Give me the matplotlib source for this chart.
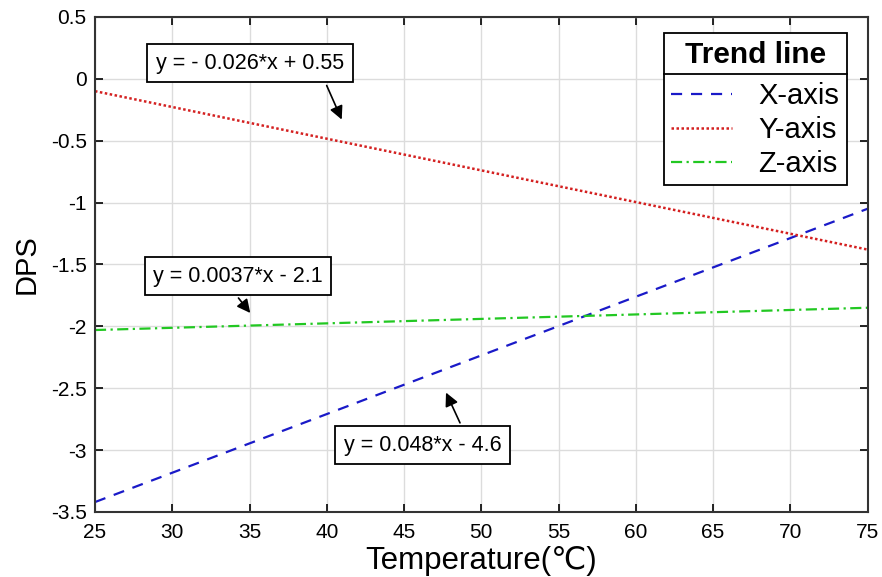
import matplotlib
matplotlib.use("Agg")
import matplotlib.pyplot as plt
from matplotlib.lines import Line2D

plt.rcParams['font.family'] = ['Liberation Sans', 'DejaVu Sans']

# trend lines, endpoints
temp = [25, 75]
x_axis = [-3.42, -1.05]
y_axis = [-0.10, -1.38]
z_axis = [-2.03, -1.85]

labels = ["X-axis", "Y-axis", "Z-axis"]
equations = ["y = - 0.026*x + 0.55", "y = 0.0037*x - 2.1", "y = 0.048*x - 4.6"]

fig = plt.figure(figsize=(8.82, 5.77), dpi=100)
ax = fig.add_axes([0.1077, 0.1127, 0.876, 0.858])

ax.plot(temp, x_axis, color="#1a1ac8", ls=(0, (5, 4)), lw=1.6, label=labels[0])
ax.plot(temp, y_axis, color="#d42020", ls=(0, (1, 1)), lw=1.8, label=labels[1])
ax.plot(temp, z_axis, color="#22c822", ls=(0, (5, 2, 1, 2)), lw=1.6, label=labels[2])

ax.set_xlim(25, 75)
ax.set_ylim(-3.5, 0.5)
ax.set_xticks(range(25, 80, 5))
ax.set_yticks([0.5, 0, -0.5, -1, -1.5, -2, -2.5, -3, -3.5])
ax.set_yticklabels(["0.5", "0", "-0.5", "-1", "-1.5", "-2", "-2.5", "-3", "-3.5"])
ax.grid(True, color="#dcdcdc", lw=1)
ax.tick_params(direction="in", top=True, right=True, length=6, width=1.2, labelsize=15)
ax.tick_params(axis="y", pad=6)
ax.tick_params(axis="x", pad=8)
for s in ax.spines.values():
    s.set_linewidth(1.5)
    s.set_color("#333333")

ax.set_xlabel("Temperature(℃)", fontsize=22.5, labelpad=3)
ax.set_ylabel("DPS", fontsize=21, labelpad=7)

# equation boxes with arrows
box = dict(boxstyle="square,pad=0.4", fc="white", ec="black", lw=1.3)
arr = dict(arrowstyle="-|>", color="black", lw=1.2, mutation_scale=20)
ax.annotate(equations[0], xy=(41.04, -0.35), xytext=(35.03, 0.126), fontsize=15.5,
            ha="center", va="center", bbox=box, arrowprops=dict(arr, relpos=(0.88, 0)))
ax.annotate(equations[1], xy=(35.16, -1.91), xytext=(34.25, -1.594), fontsize=15.5,
            ha="center", va="center", bbox=box, arrowprops=dict(arr, relpos=(0.45, 0)))
ax.annotate(equations[2], xy=(47.64, -2.515), xytext=(46.22, -2.96), fontsize=15.5,
            ha="center", va="center", bbox=box, arrowprops=dict(arr, relpos=(0.77, 1)))

leg = ax.legend(title="Trend line", loc="upper right", bbox_to_anchor=(0.973, 0.967),
                fontsize=21, title_fontproperties={"weight": "bold", "size": 21.5},
                fancybox=False, edgecolor="black", framealpha=1, handlelength=2.1,
                borderpad=0.25, labelspacing=0.2, handletextpad=0.9, borderaxespad=0)
leg.get_frame().set_linewidth(1.3)
leg._legend_box.sep = 10

fig.canvas.draw()
bb = leg.get_window_extent().transformed(fig.transFigure.inverted())
tb = leg.get_title().get_window_extent().transformed(fig.transFigure.inverted())
ysep = tb.y0 - 0.01
fig.add_artist(Line2D([bb.x0, bb.x1], [ysep, ysep], color="black", lw=1.3,
                      transform=fig.transFigure))

fig.savefig("out.png", dpi=100)
